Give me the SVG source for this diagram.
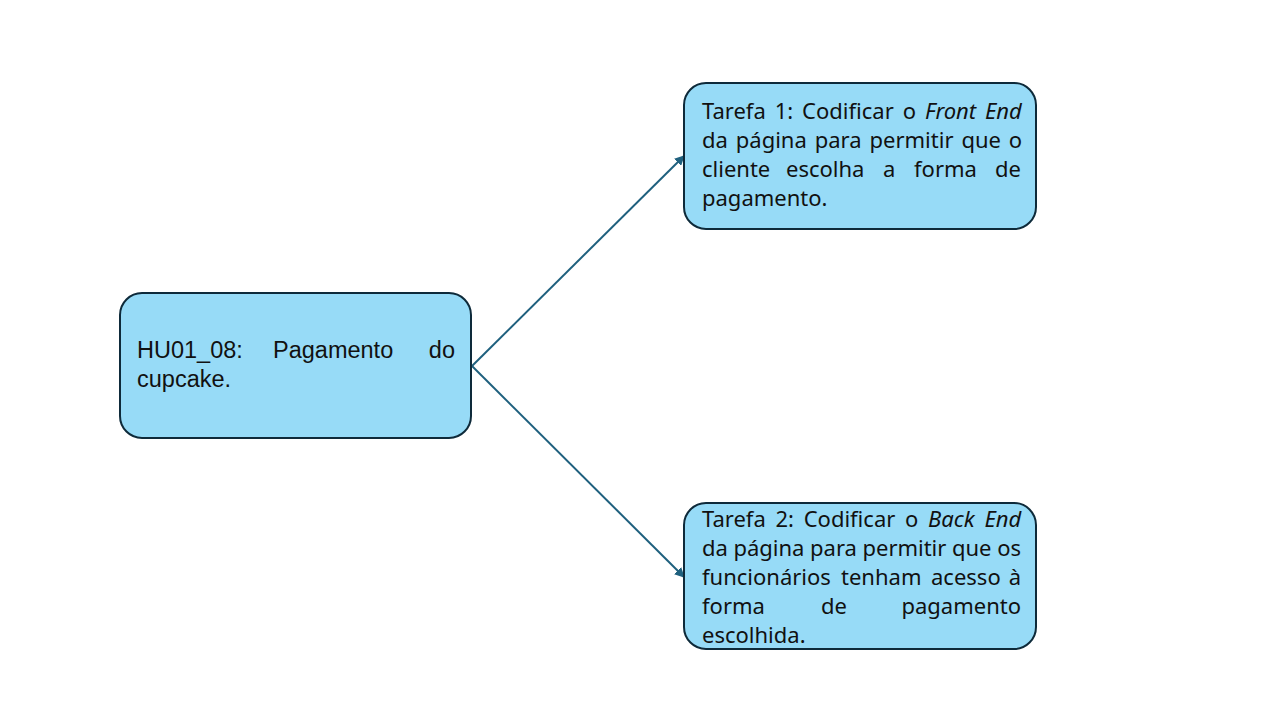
<svg xmlns="http://www.w3.org/2000/svg" width="1280" height="720" viewBox="0 0 1280 720">
<defs>
<style>
.box{fill:#97dbf7;stroke:#0e2a3a;stroke-width:2}
.t{font-family:"Noto Sans","Open Sans",sans-serif;font-size:22px;fill:#111}
.l{font-family:"Liberation Sans",Arial,sans-serif;font-size:23.5px;fill:#111}
.i{font-style:italic}
.conn{stroke:#1f607e;stroke-width:2;fill:none;marker-end:url(#ah)}
</style>
<marker id="ah" viewBox="0 0 10 10" refX="9" refY="5" markerWidth="5" markerHeight="5" orient="auto" markerUnits="strokeWidth">
<path d="M0,0 L10,5 L0,10 z" fill="#1f607e"/>
</marker>
</defs>
<rect width="1280" height="720" fill="#fff"/>
<g id="connectors">
<line class="conn" x1="472" y1="366" x2="684" y2="156"/>
<line class="conn" x1="472" y1="366" x2="684" y2="577"/>
</g>
<g id="hu01_08">
<rect class="box" x="120" y="293" width="351" height="145" rx="22"/>
<text class="l" y="358"><tspan x="137">HU01_08:</tspan><tspan x="273">Pagamento</tspan><tspan x="455" text-anchor="end">do</tspan></text>
<text class="l" x="137" y="387">cupcake.</text>
</g>
<g id="tarefa1">
<rect class="box" x="684" y="83" width="352" height="146" rx="22"/>
<text class="t" x="702" y="119" word-spacing="3.2">Tarefa 1: Codificar o <tspan class="i">Front End</tspan></text>
<text class="t" x="702" y="148" word-spacing="2.2">da página para permitir que o</text>
<text class="t" y="177"><tspan x="702">cliente</tspan><tspan x="786">escolha</tspan><tspan x="883">a</tspan><tspan x="914">forma</tspan><tspan x="1021" text-anchor="end">de</tspan></text>
<text class="t" x="702" y="206">pagamento.</text>
</g>
<g id="tarefa2">
<rect class="box" x="684" y="503" width="352" height="146" rx="22"/>
<text class="t" x="702" y="527" word-spacing="4">Tarefa 2: Codificar o <tspan class="i">Back End</tspan></text>
<text class="t" x="702" y="556" textLength="319" lengthAdjust="spacing">da página para permitir que os</text>
<text class="t" y="585"><tspan x="702">funcionários</tspan><tspan x="841">tenham</tspan><tspan x="931">acesso</tspan><tspan x="1021" text-anchor="end">à</tspan></text>
<text class="t" y="614"><tspan x="702">forma</tspan><tspan x="821">de</tspan><tspan x="1021" text-anchor="end">pagamento</tspan></text>
<text class="t" x="702" y="643">escolhida.</text>
</g>
</svg>
